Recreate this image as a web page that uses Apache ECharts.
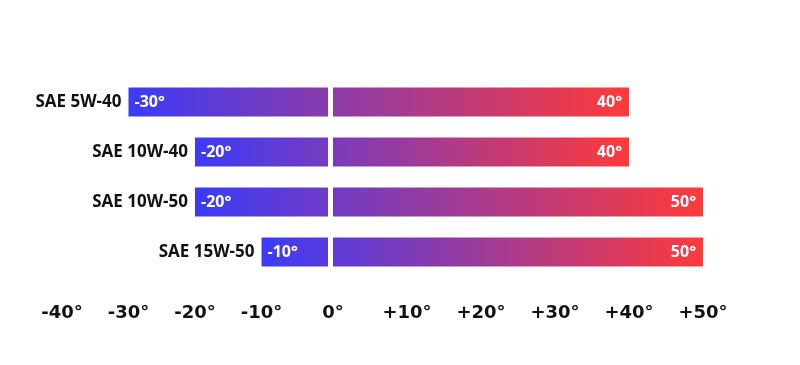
<!DOCTYPE html>
<html>
<head>
<meta charset="utf-8">
<script src="https://cdn.jsdelivr.net/npm/echarts@6/dist/echarts.min.js"></script>
<style>html,body{margin:0;padding:0;background:#fff}#c{width:800px;height:365px}</style>
</head>
<body>
<div id="c"></div>
<script>
const categories = ['SAE 5W-40', 'SAE 10W-40', 'SAE 10W-50', 'SAE 15W-50'];
const lowTemps = [-30, -20, -20, -10];
const highTemps = [40, 40, 50, 50];
const lowTicks = [-40, -30, -20, -10];
const highTicks = [0, 10, 20, 30, 40, 50];

const BLUE = [59, 59, 248], RED = [255, 58, 58];
function mix(t) {
  const c = BLUE.map((b, i) => Math.round(b + (RED[i] - b) * t));
  return 'rgb(' + c.join(',') + ')';
}
// approximate pixel spans of each half, used only for the colour blend
const negScale = 6.65, posScale = 7.4, gapPx = 5;
function grads(i) {
  const n = Math.abs(lowTemps[i]) * negScale, p = highTemps[i] * posScale;
  const tot = n + gapPx + p;
  const t1 = n / tot, t2 = (n + gapPx) / tot;
  return {
    neg: new echarts.graphic.LinearGradient(0, 0, 1, 0, [{offset: 0, color: mix(0)}, {offset: 1, color: mix(t1)}]),
    pos: new echarts.graphic.LinearGradient(0, 0, 1, 0, [{offset: 0, color: mix(t2)}, {offset: 1, color: mix(1)}])
  };
}

const chart = echarts.init(document.getElementById('c'));
const catFont = {fontFamily: 'Open Sans', fontWeight: 'bold', fontSize: 17};
const valFont = {fontFamily: 'Open Sans', fontWeight: 'bold', fontSize: 16};
const tickFont = {fontFamily: 'DejaVu Sans', fontWeight: 'bold', fontSize: 18, color: '#111'};

chart.setOption({
  backgroundColor: '#fff',
  animation: false,
  grid: [
    {left: 62, width: 266, top: 77, height: 200},
    {left: 333, right: 97, top: 77, height: 200}
  ],
  xAxis: [
    {gridIndex: 0, type: 'value', min: -40, max: 0, interval: 10,
     axisLine: {show: false}, axisTick: {show: false}, splitLine: {show: false},
     axisLabel: Object.assign({margin: 27, formatter: v => lowTicks.includes(v) ? v + '°' : ''}, tickFont)},
    {gridIndex: 1, type: 'value', min: 0, max: 50, interval: 10,
     axisLine: {show: false}, axisTick: {show: false}, splitLine: {show: false},
     axisLabel: Object.assign({margin: 27, formatter: v => highTicks.includes(v) ? (v === 0 ? '0°' : '+' + v + '°') : ''}, tickFont)}
  ],
  yAxis: [
    {gridIndex: 0, type: 'category', data: categories, inverse: true, show: false},
    {gridIndex: 1, type: 'category', data: categories, inverse: true, show: false}
  ],
  series: [
    {type: 'bar', xAxisIndex: 0, yAxisIndex: 0, barWidth: 29,
     data: lowTemps.map((v, i) => ({value: v, itemStyle: {color: grads(i).neg}})),
     label: Object.assign({show: true, position: 'insideLeft', distance: 6, color: '#fff', formatter: p => p.value + '°'}, valFont)},
    {type: 'bar', xAxisIndex: 0, yAxisIndex: 0, barWidth: 29, barGap: '-100%', silent: true,
     data: lowTemps, itemStyle: {color: 'rgba(0,0,0,0)'},
     label: Object.assign({show: true, position: 'left', distance: 7, color: '#111', formatter: p => p.name}, catFont)},
    {type: 'bar', xAxisIndex: 1, yAxisIndex: 1, barWidth: 29,
     data: highTemps.map((v, i) => ({value: v, itemStyle: {color: grads(i).pos}})),
     label: Object.assign({show: true, position: 'insideRight', distance: 7, color: '#fff', formatter: p => p.value + '°'}, valFont)}
  ]
});
</script>
</body>
</html>
